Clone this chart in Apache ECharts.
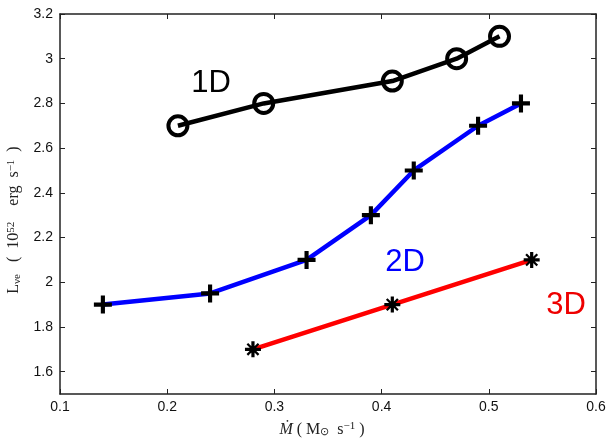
<!DOCTYPE html>
<html>
<head>
<meta charset="utf-8">
<script src="https://cdn.jsdelivr.net/npm/echarts@6/dist/echarts.min.js"></script>
<style>
  html, body { margin: 0; padding: 0; background: #fff; }
  #chart { width: 607px; height: 440px; }
</style>
</head>
<body>
<div id="chart"></div>
<script>
// data
const mdot1D = [0.21, 0.29, 0.41, 0.47, 0.51];
const lum1D = [2.7, 2.8, 2.9, 3.0, 3.1];
const mdot2D = [0.14, 0.24, 0.33, 0.39, 0.43, 0.49, 0.53];
const lum2D = [1.9, 1.95, 2.1, 2.3, 2.5, 2.7, 2.8];
const mdot3D = [0.28, 0.41, 0.54];
const lum3D = [1.7, 1.9, 2.1];
const yTicks = [1.6, 1.8, 2.0, 2.2, 2.4, 2.6, 2.8, 3.0, 3.2];

const pairs = (xs, ys) => xs.map((x, i) => [x, ys[i]]);

const plusPath = "path://M-10,-2.3L10,-2.3L10,2.3L-10,2.3ZM2.3,-10L2.3,10L-2.3,10L-2.3,-10Z";
const starPath = "path://M-10,-2L10,-2L10,2L-10,2ZM2,-10L2,10L-2,10L-2,-10Z" +
  "M-6,-8L8,6L6,8L-8,-6ZM6,-8L8,-6L-6,8L-8,6Z";

const chart = echarts.init(document.getElementById("chart"));

const tickFmt = (v) => String(+v.toFixed(1));
const axisBase = {
  axisLine: { show: true, lineStyle: { color: "#222", width: 1.5 } },
  axisTick: { inside: true, length: 5, lineStyle: { color: "#222", width: 1 } },
  splitLine: { show: false },
};
const serif = "Liberation Serif";
const scripts = {
  i: { fontFamily: serif, fontStyle: "italic", fontSize: 16, color: "#222" },
  sub: { fontFamily: serif, fontSize: 11, verticalAlign: "bottom", padding: [6, 0, 0, 0], color: "#222" },
  sup: { fontFamily: serif, fontSize: 11, verticalAlign: "top", padding: [0, 0, 6, 0], color: "#222" },
};

chart.setOption({
  animation: false,
  backgroundColor: "#fff",
  grid: { left: 60, right: 11, top: 14, bottom: 46, containLabel: false, outerBoundsMode: "none" },
  xAxis: [
    {
      ...axisBase,
      type: "value",
      min: 0.1,
      max: 0.6,
      interval: 0.1,
      position: "bottom",
      axisLabel: {
        color: "#111",
        fontSize: 14,
        fontFamily: "Liberation Sans",
        margin: 6,
        formatter: tickFmt,
      },
      name: "{i|Ṁ} ( M{sub|⊙}  s{sup|−1} )   ",
      nameLocation: "middle",
      nameGap: 27,
      nameTextStyle: { fontFamily: serif, fontSize: 16, color: "#222", rich: scripts },
    },
    {
      ...axisBase,
      type: "value",
      min: 0.1,
      max: 0.6,
      interval: 0.1,
      position: "top",
      axisLabel: { show: false },
    },
  ],
  yAxis: [
    {
      ...axisBase,
      type: "value",
      min: 1.5,
      max: 3.2,
      position: "left",
      axisTick: { ...axisBase.axisTick, customValues: yTicks },
      axisLabel: {
        color: "#111",
        fontSize: 14,
        fontFamily: "Liberation Sans",
        margin: 7,
        customValues: yTicks,
        formatter: tickFmt,
      },
      name: "L{sub|νe}   (  10{sup|52}    erg  s{sup|−1}  )        ",
      nameLocation: "middle",
      nameGap: 36,
      nameRotate: 90,
      nameTextStyle: { fontFamily: serif, fontSize: 16, color: "#222", rich: scripts },
    },
    {
      ...axisBase,
      type: "value",
      min: 1.5,
      max: 3.2,
      position: "right",
      axisTick: { ...axisBase.axisTick, customValues: yTicks },
      axisLabel: { show: false },
    },
  ],
  series: [
    {
      name: "1D",
      type: "line",
      data: pairs(mdot1D, lum1D),
      symbol: "circle",
      symbolSize: 19,
      lineStyle: { color: "#000", width: 4.5 },
      itemStyle: { color: "rgba(0,0,0,0)", borderColor: "#000", borderWidth: 4 },
      z: 3,
    },
    {
      name: "2D",
      type: "line",
      data: pairs(mdot2D, lum2D),
      symbol: plusPath,
      symbolSize: 18,
      lineStyle: { color: "#0000ff", width: 4.5 },
      itemStyle: { color: "#000" },
      z: 3,
    },
    {
      name: "3D",
      type: "line",
      data: pairs(mdot3D, lum3D),
      symbol: starPath,
      symbolSize: 16,
      lineStyle: { color: "#ff0000", width: 4.5 },
      itemStyle: { color: "#000" },
      z: 3,
    },
  ],
  graphic: [
    { type: "text", x: 211, y: 83, style: { text: "1D", fill: "#000", font: "31px Liberation Sans", align: "center", verticalAlign: "middle" } },
    { type: "text", x: 405, y: 262, style: { text: "2D", fill: "#0000ff", font: "31px Liberation Sans", align: "center", verticalAlign: "middle" } },
    { type: "text", x: 566, y: 305, style: { text: "3D", fill: "#ee0000", font: "31px Liberation Sans", align: "center", verticalAlign: "middle" } },
  ],
});
</script>
</body>
</html>
